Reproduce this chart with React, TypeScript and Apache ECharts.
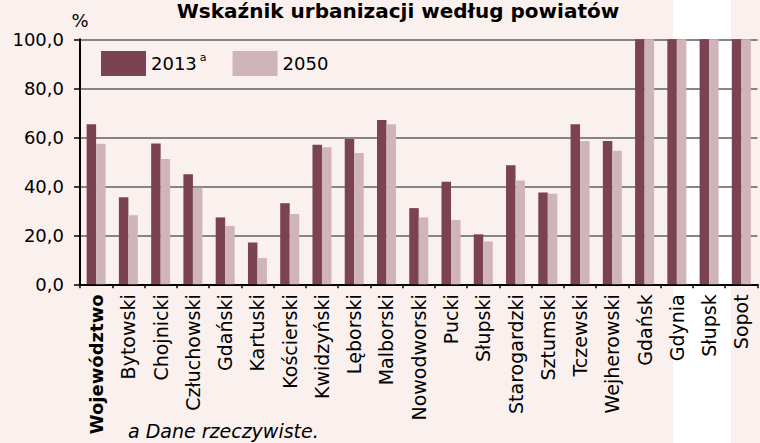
import React, { useEffect, useRef } from "react";
import * as echarts from "echarts";

const categories = [
  "Województwo", "Bytowski", "Chojnicki", "Człuchowski", "Gdański", "Kartuski",
  "Kościerski", "Kwidzyński", "Lęborski", "Malborski", "Nowodworski", "Pucki",
  "Słupski", "Starogardzki", "Sztumski", "Tczewski", "Wejherowski", "Gdańsk",
  "Gdynia", "Słupsk", "Sopot",
];
const values2013 = [65.3, 35.5, 57.5, 44.9, 27.3, 17.1, 33.1, 57.0, 59.3, 67.1, 31.1, 41.9, 20.4, 48.6, 37.5, 65.3, 58.5, 100, 100, 100, 100];
const values2050 = [57.4, 28.2, 51.1, 39.4, 23.8, 10.7, 28.7, 55.9, 53.6, 65.3, 27.3, 26.2, 17.5, 42.4, 37.0, 58.5, 54.5, 100, 100, 100, 100];
const seriesNames = ["2013", "2050"];
const titleText = "Wskaźnik urbanizacji według powiatów";
const footnote = "a Dane rzeczywiste.";
const unitLabel = "%";

const FONT = "DejaVu Sans";

export default function App() {
  const ref = useRef<HTMLDivElement>(null);
  useEffect(() => {
    if (!ref.current) return;
    const chart = echarts.init(ref.current, undefined, { renderer: "svg" });
    chart.setOption({
      animation: false,
      backgroundColor: "#FAF1EF",
      textStyle: { fontFamily: FONT },
      graphic: [
        { type: "rect", z: -10, silent: true, shape: { x: 673, y: 0, width: 58, height: 443 }, style: { fill: "#FFFFFF" } },
        { type: "text", style: { text: titleText, x: 398, y: 11, textAlign: "center", textVerticalAlign: "middle", font: `bold 20px "${FONT}"`, fill: "#000" } },
        { type: "text", style: { text: unitLabel, x: 80, y: 20, textAlign: "center", textVerticalAlign: "middle", font: `18px "${FONT}"`, fill: "#000" } },
        { type: "text", style: { text: footnote, x: 128, y: 431, textAlign: "left", textVerticalAlign: "middle", font: `italic 19px "${FONT}"`, fill: "#000" } },
      ],
      legend: {
        left: 101,
        top: 51,
        padding: 0,
        itemWidth: 45,
        itemHeight: 25,
        itemGap: 26,
        icon: "rect",
        data: seriesNames,
        formatter: (n: string) => (n === "2013" ? "2013{sup|a}" : n),
        textStyle: {
          fontFamily: FONT,
          fontSize: 18,
          color: "#000",
          rich: {
            sup: { fontFamily: FONT, fontSize: 11, color: "#000", padding: [0, 0, 12, 3] },
          },
        },
      },
      grid: { left: 80, right: 2.5, top: 39.3, bottom: 158.7, containLabel: false },
      xAxis: {
        type: "category",
        data: categories,
        axisLine: { lineStyle: { color: "#000", width: 2 } },
        axisTick: { show: true, length: 4, interval: 0, lineStyle: { color: "#000", width: 1.5 } },
        axisLabel: {
          interval: 0,
          rotate: 90,
          margin: 10,
          fontFamily: FONT,
          fontSize: 19,
          color: "#000",
          formatter: (v: string, i: number) => (i === 0 ? `{b|${v}}` : v),
          rich: { b: { fontFamily: FONT, fontSize: 18, fontWeight: "bold", color: "#000" } },
        },
      },
      yAxis: {
        type: "value",
        min: 0,
        max: 100,
        interval: 20,
        axisLine: { show: true, lineStyle: { color: "#000", width: 2 } },
        axisTick: { show: true, length: 6, lineStyle: { color: "#000", width: 1.5 } },
        axisLabel: {
          margin: 16,
          fontFamily: FONT,
          fontSize: 18,
          color: "#000",
          formatter: (v: number) => v.toFixed(1).replace(".", ","),
        },
        splitLine: { show: true, lineStyle: { color: "#858585", width: 2 } },
      },
      series: [
        { name: seriesNames[0], type: "bar", data: values2013, barWidth: 9.5, barGap: "0%", itemStyle: { color: "#7B4253" } },
        { name: seriesNames[1], type: "bar", data: values2050, barWidth: 9.5, barGap: "0%", itemStyle: { color: "#CFB5B9" } },
      ],
    });
    return () => chart.dispose();
  }, []);
  return <div ref={ref} style={{ position: "fixed", left: 0, top: 0, width: 760, height: 443 }} />;
}
